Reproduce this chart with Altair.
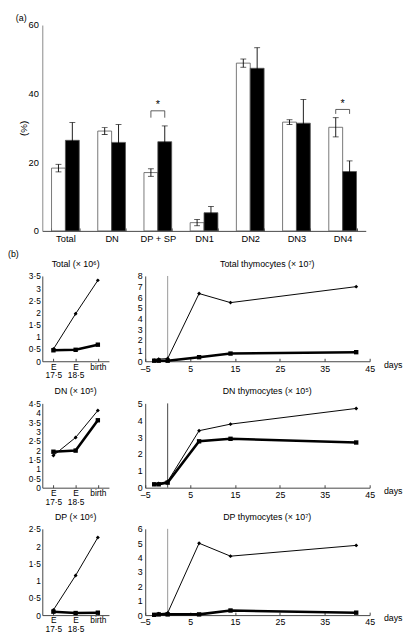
import altair as alt
import pandas as pd

FONT = "Liberation Sans"

# ---------------- panel (a) data ----------------
bar_categories = ["Total", "DN", "DP + SP", "DN1", "DN2", "DN3", "DN4"]
white_means = [18.3, 29.1, 17.0, 2.4, 48.9, 31.7, 30.2]
white_errs = [1.1, 1.0, 1.1, 0.9, 1.2, 0.7, 2.8]
black_means = [26.4, 25.8, 26.0, 5.3, 47.4, 31.4, 17.3]
black_errs = [5.2, 5.2, 4.6, 1.8, 6.0, 6.9, 3.1]
groups = ["white", "black"]
sig_categories = ["DP + SP", "DN4"]
sig_top = [35.0, 35.4]
sig_leg = [33.0, 34.1]
sig_star = [36.6, 37.1]

# ---------------- panel (b) data ----------------
stages = ["E 17·5", "E 18·5", "birth"]
total_small_d = [0.5, 1.95, 3.32]
total_small_s = [0.45, 0.47, 0.68]
dn_small_d = [1.72, 2.68, 4.12]
dn_small_s = [1.92, 1.98, 3.6]
dp_small_d = [0.15, 1.15, 2.25]
dp_small_s = [0.1, 0.06, 0.07]

days = [-3, -2, 0, 7, 14, 42]
total_d = [0.1, 0.2, 0.25, 6.35, 5.5, 7.0]
total_s = [0.05, 0.05, 0.05, 0.38, 0.72, 0.85]
dn_d = [0.2, 0.25, 0.37, 3.38, 3.77, 4.7]
dn_s = [0.2, 0.2, 0.3, 2.75, 2.9, 2.68]
dp_d = [0.02, 0.1, 0.15, 5.0, 4.1, 4.85]
dp_s = [0.02, 0.05, 0.05, 0.05, 0.32, 0.17]
birth_day = [0]

AXIS_COLOR = "#444"
INWARD = alt.ExprRef(expr="-3")

# ---------------- panel (a) ----------------
bar_rows = []
for c, wm, we, bm, be in zip(bar_categories, white_means, white_errs, black_means, black_errs):
    bar_rows.append(dict(cat=c, group="white", mean=wm, lo=wm - we, hi=wm + we))
    bar_rows.append(dict(cat=c, group="black", mean=bm, lo=bm - be, hi=bm + be))
bar_df = pd.DataFrame(bar_rows)

br_rows = []
for c, t, l in zip(sig_categories, sig_top, sig_leg):
    br_rows += [dict(cat=c, group="white", v=l, o=0), dict(cat=c, group="white", v=t, o=1),
                dict(cat=c, group="black", v=t, o=2), dict(cat=c, group="black", v=l, o=3)]
br_df = pd.DataFrame(br_rows)
star_df = pd.DataFrame({"cat": sig_categories, "v": sig_star})

xs = alt.Scale(paddingInner=0.4, paddingOuter=0.2)
ys = alt.Scale(domain=[0, 60], nice=False)
x_a = alt.X("cat:N", sort=bar_categories, scale=xs, title=None,
            axis=alt.Axis(labelAngle=0, tickBand="extent", tickSize=INWARD, labelPadding=6,
                          labelFontSize=9.5, labelFlush=False))
x_b = alt.X("cat:N", sort=bar_categories, scale=xs, title=None)
xo = alt.XOffset("group:N", sort=groups, scale=alt.Scale(paddingInner=0, paddingOuter=0))

bars = alt.Chart(bar_df).mark_bar(stroke="#555", strokeWidth=0.8).encode(
    x=x_a, xOffset=xo,
    y=alt.Y("mean:Q", scale=ys, title="(%)",
            axis=alt.Axis(values=list(range(0, 61, 10)), ticks=False, labelPadding=4,
                          labelFontSize=9.5, titlePadding=0, titleFontSize=10, minExtent=0,
                          titleFontWeight="normal", labelFlush=False, labelOverlap=False,
                          domainColor="#888")),
    fill=alt.Fill("group:N", scale=alt.Scale(domain=groups, range=["white", "black"]), legend=None),
)
err = alt.Chart(bar_df).mark_rule(color="black", strokeWidth=0.9).encode(
    x=x_b, xOffset=xo, y=alt.Y("lo:Q", scale=ys, title="(%)"), y2="hi:Q")
cap_hi = alt.Chart(bar_df).mark_tick(color="black", size=6, thickness=0.9).encode(
    x=x_b, xOffset=xo, y=alt.Y("hi:Q", scale=ys, title="(%)"))
cap_lo = alt.Chart(bar_df).transform_filter("datum.group == 'white'").mark_tick(
    color="black", size=6, thickness=0.9).encode(
    x=x_b, xOffset=xo, y=alt.Y("lo:Q", scale=ys, title="(%)"))
bracket = alt.Chart(br_df).mark_line(color="#333", strokeWidth=0.8).encode(
    x=x_b, xOffset=xo, y=alt.Y("v:Q", scale=ys, title="(%)"), detail="cat:N", order="o:Q")
stars = alt.Chart(star_df).mark_text(text="*", fontSize=11, baseline="middle", font=FONT,
                                     fill="black", color="black").encode(
    x=x_b, y=alt.Y("v:Q", scale=ys, title="(%)"))

panel_a = alt.layer(bars, err, cap_hi, cap_lo, bracket, stars).properties(
    width=330, height=210,
    title=alt.TitleParams("(a)", anchor="start", frame="group", dx=-27, offset=-3, fontSize=9,
                          fontWeight="normal"))


# ---------------- panel (b) ----------------
SERIES = ["d", "s"]


def series_encodings():
    return dict(
        strokeWidth=alt.StrokeWidth("series:N", scale=alt.Scale(domain=SERIES, range=[1.0, 2.6]), legend=None),
        detail="series:N",
    )


def point_encodings():
    return dict(
        shape=alt.Shape("series:N", scale=alt.Scale(domain=SERIES, range=["diamond", "square"]), legend=None),
        size=alt.Size("series:N", scale=alt.Scale(domain=SERIES, range=[16, 20]), legend=None),
    )


def small_chart(title, dvals, svals, ymax, height, toff):
    df = pd.DataFrame({"stage": stages * 2, "value": dvals + svals,
                       "series": ["d"] * len(stages) + ["s"] * len(stages)})
    vals = [i * 0.5 for i in range(int(ymax * 2) + 1)]
    base = alt.Chart(df).encode(
        x=alt.X("stage:N", sort=stages, scale=alt.Scale(type="point", padding=0.5), title=None,
                axis=alt.Axis(labelAngle=0, tickSize=INWARD, labelPadding=4, labelLineHeight=9,
                              labelFontSize=8.5,
                              labelExpr="datum.label == 'birth' ? 'birth' : ['E', slice(datum.label, 2)]")),
        y=alt.Y("value:Q", scale=alt.Scale(domain=[0, ymax], nice=False), title=None,
                axis=alt.Axis(values=vals, ticks=False, labelPadding=2, minExtent=35, labelFontSize=8.5,
                              labelOverlap=False, labelFlush=False,
                              labelExpr="replace(format(datum.value, '.1~f'), '.', '·')")),
    )
    line = base.mark_line(color="black").encode(**series_encodings())
    pts = base.mark_point(filled=True, color="black", opacity=1).encode(**point_encodings())
    return alt.layer(line, pts).properties(
        width=68, height=height,
        title=alt.TitleParams(title, fontSize=9, offset=toff, fontWeight="normal"))


def large_chart(title, dvals, svals, ymax, height, toff, rule_color):
    df = pd.DataFrame({"day": days * 2, "value": dvals + svals,
                       "series": ["d"] * len(days) + ["s"] * len(days)})
    xsc = alt.Scale(domain=[-5, 45], nice=False, zero=False)
    ysc = alt.Scale(domain=[0, ymax], nice=False)
    base = alt.Chart(df).encode(
        x=alt.X("day:Q", scale=xsc, title="days",
                axis=alt.Axis(values=[-5, 5, 15, 25, 35, 45], tickSize=INWARD, labelPadding=6,
                              labelFontSize=9, labelFlush=False, labelOverlap=False,
                              labelExpr="datum.value < 0 ? '–' + abs(datum.value) : datum.label",
                              titleX=243, titleY=3, titleAlign="left", titleBaseline="middle",
                              titleFontSize=9, titleFontWeight="normal")),
        y=alt.Y("value:Q", scale=ysc, title=None,
                axis=alt.Axis(values=list(range(0, ymax + 1)), ticks=False, labelPadding=3,
                              minExtent=10, labelFontSize=9, labelFlush=False, labelOverlap=False)),
    )
    rule = alt.Chart(pd.DataFrame({"day": birth_day})).mark_rule(
        color=rule_color, strokeWidth=1).encode(x=alt.X("day:Q", scale=xsc, title="days"))
    line = base.mark_line(color="black").encode(**series_encodings())
    pts = base.mark_point(filled=True, color="black", opacity=1).encode(**point_encodings())
    return alt.layer(rule, line, pts).properties(
        width=229, height=height,
        title=alt.TitleParams(title, fontSize=9, offset=toff, dx=10, fontWeight="normal"))


row1 = alt.hconcat(
    small_chart("Total (× 10⁶)", total_small_d, total_small_s, 3.5, 87, 3),
    large_chart("Total thymocytes (× 10⁷)", total_d, total_s, 8, 87, 3, "#999"),
    spacing=27,
).properties(title=alt.TitleParams("(b)", anchor="start", offset=1, fontSize=9, fontWeight="normal"))

row2 = alt.hconcat(
    small_chart("DN (× 10⁵)", dn_small_d, dn_small_s, 4.5, 86, 4),
    large_chart("DN thymocytes (× 10⁵)", dn_d, dn_s, 5, 86, 4, "#444"),
    spacing=27,
)

row3 = alt.hconcat(
    small_chart("DP (× 10⁶)", dp_small_d, dp_small_s, 2.5, 88, 3),
    large_chart("DP thymocytes (× 10⁷)", dp_d, dp_s, 6, 88, 3, "#999"),
    spacing=27,
)

chart = alt.vconcat(panel_a, row1, row2, row3, spacing=7).properties(
    padding={"left": 0, "top": 0, "right": 0, "bottom": 0}
).configure(font=FONT).configure_view(stroke=None).configure_axis(
    labelFont=FONT, titleFont=FONT, labelColor="black", titleColor="black",
    domainColor=AXIS_COLOR, tickColor=AXIS_COLOR, grid=False,
).configure_title(font=FONT, color="black", fontWeight="normal")

chart.save("out.html", embed_options={"renderer": "svg", "actions": False})
